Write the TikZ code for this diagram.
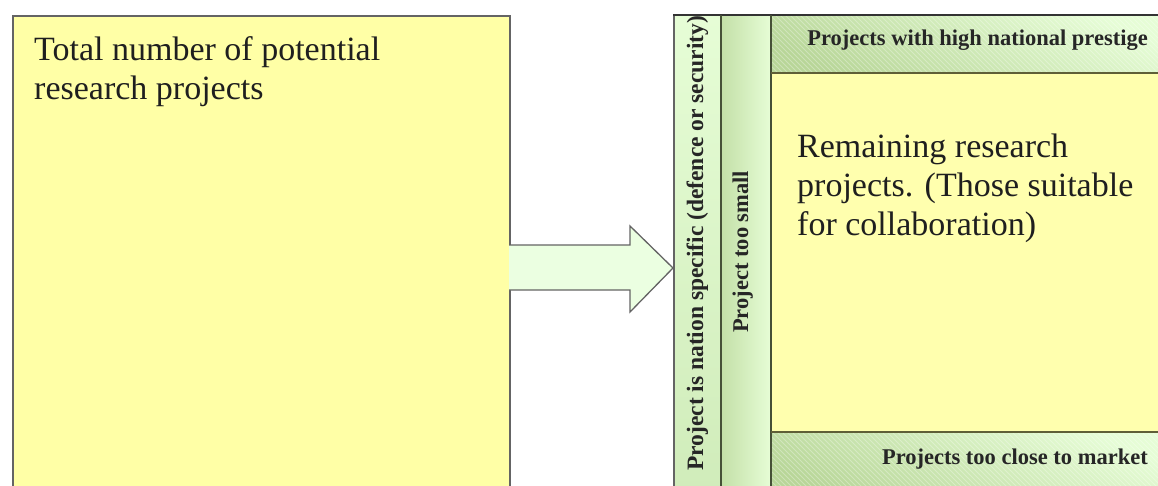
\documentclass[tikz,border=0pt]{standalone}
\usepackage{fontspec}
\setmainfont{Liberation Serif}
\definecolor{paleyellow}{RGB}{255,255,166}
\definecolor{restyellow}{RGB}{255,255,174}
\definecolor{gLight}{RGB}{230,253,214}
\definecolor{gMid}{RGB}{208,236,186}
\definecolor{gDark}{RGB}{184,214,152}
\definecolor{arrowfill}{RGB}{235,255,225}
\definecolor{edge}{RGB}{100,100,100}
\definecolor{divider}{RGB}{70,80,55}
\definecolor{olive}{RGB}{95,95,55}
\begin{document}
\begin{tikzpicture}[x=1pt,y=-1pt,
  bigtext/.style={font=\fontsize{34}{38.5}\selectfont, align=left, inner sep=0pt,
                  anchor=north west, text=black!88},
  tag/.style={font=\fontsize{22.5}{24}\selectfont\bfseries, inner sep=0pt, text=black!85},
  hatch/.style={white, opacity=0.3, line width=0.9pt},
  band/.style={shading=axis, top color=gLight, bottom color=gDark, shading angle=-25}]
\useasboundingbox (0,0) rectangle (1158,485);
\clip (0,0) rectangle (1158,485);

% all candidate projects
\node[draw=edge, line width=1.6pt, fill=paleyellow, minimum width=497, minimum height=485,
      anchor=north west, inner sep=0pt] (total) at (12,15) {};
\node[bigtext] (totaltext) at (34,36.5) {Total number of potential\\research projects};

% block arrow from the full set to the filtered set
\filldraw[draw=edge, line width=1.3pt, fill=arrowfill, line join=miter]
  (509,245) -- (630,245) -- (630,226) -- (673,268) -- (630,312) -- (630,290) -- (509,290);

% filter strips on the left of the remaining set
\shade[top color=gLight, bottom color=gMid] (674,15) rectangle (721,495);
\shade[left color=gDark!75!gLight, right color=gLight] (721,15) rectangle (771,495);

% filter bands above and below
\shade[band] (771,15) rectangle (1160,73);
\shade[band] (771,432) rectangle (1160,495);
\begin{scope}
  \clip (771,15) rectangle (1160,73) (771,432) rectangle (1160,495);
  \foreach \i in {270,275,...,1160} \draw[hatch] (\i,0) -- ++(500,500);
\end{scope}

% what is left over
\fill[restyellow] (771,73) rectangle (1160,432);

% outlines
\draw[edge, line width=1.2pt] (674,15) -- (674,495);
\draw[black!80, line width=2pt] (673,15) -- (1160,15);
\draw[divider, line width=1.4pt] (721,15) -- (721,495) (771,15) -- (771,495);
\draw[olive, line width=1.3pt] (771,73) -- (1160,73) (771,432) -- (1160,432);

% labels
\node[bigtext, font=\fontsize{34}{39}\selectfont] (resttext) at (797,133.5)
  {Remaining research\\projects. (Those suitable\\for collaboration)};
\node[tag, anchor=base east] (prestige) at (1148,45) {Projects with high national prestige};
\node[tag, anchor=base east] (market) at (1148,464) {Projects too close to market};
\node[tag, rotate=90, anchor=base west, font=\fontsize{23.5}{24}\selectfont\bfseries] (nation)
  at (703,471) {Project is nation specific (defence or security)};
\node[tag, rotate=90, anchor=base west] (small) at (748,333) {Project too small};
\end{tikzpicture}
\end{document}
